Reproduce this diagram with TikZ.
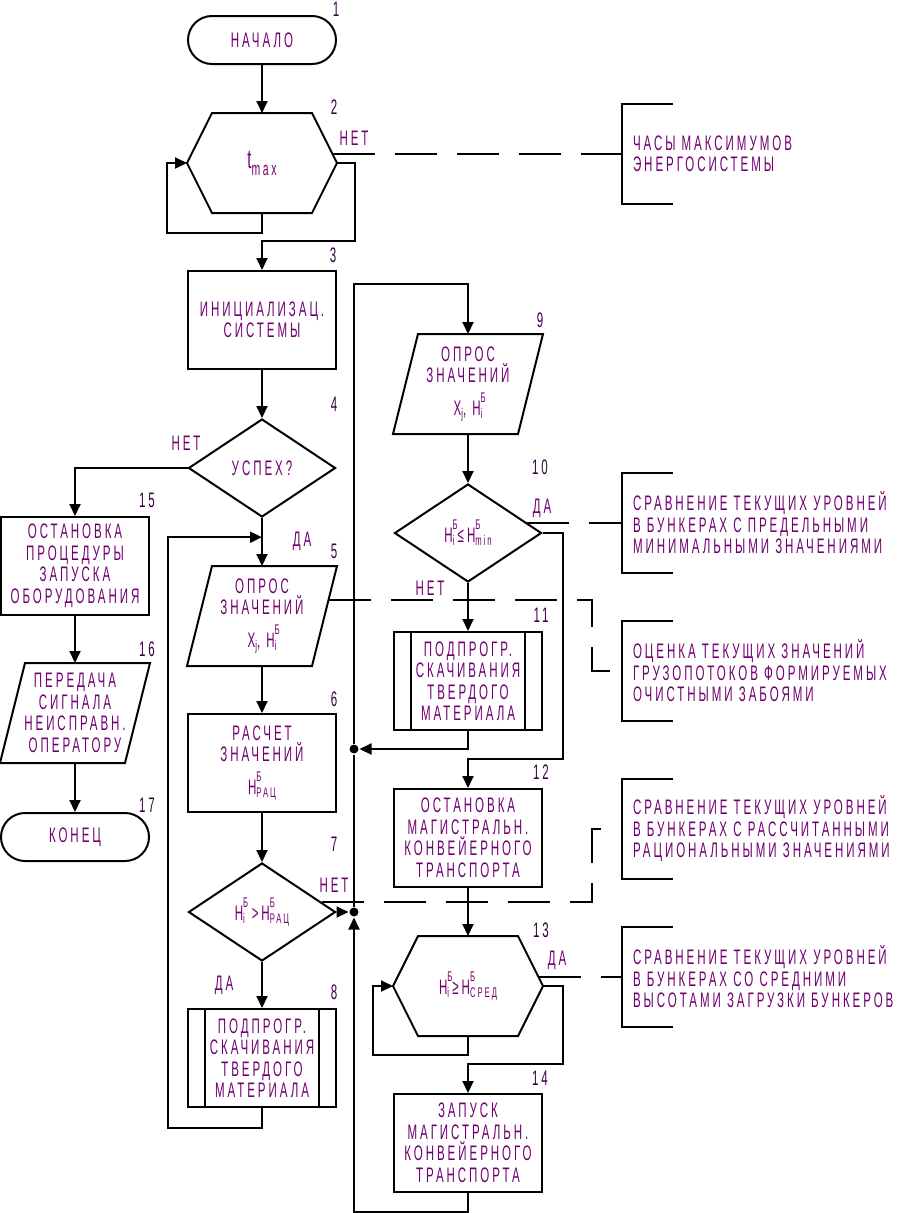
\documentclass[tikz,border=0pt]{standalone}
\usepackage{fontspec}
\setmainfont{Liberation Sans}[FakeStretch=0.55,LetterSpace=14]
\usetikzlibrary{arrows.meta,calc,shapes.geometric,shapes.misc}
\definecolor{txtpurple}{RGB}{112,0,112}
\definecolor{numdark}{RGB}{55,0,65}
\newcommand\subsz{\fontsize{14}{14}\selectfont}
\newcommand\lowsub[1]{\raisebox{-3pt}{\subsz #1}}
\newcommand\hbunk[1]{H\sbox0{\subsz Б}\sbox2{\subsz #1}\makebox[0pt][l]{\raisebox{13pt}{\usebox0}}\raisebox{-3pt}{\usebox2}\ifdim\wd0>\wd2\hspace{\dimexpr\wd0-\wd2\relax}\fi}
\tikzset{
    >={Triangle[length=12pt,width=11pt]},
    flow/.style={
        x=1pt,y=-1pt,line width=2pt,
        font=\fontsize{21}{21.5}\selectfont,text=txtpurple,
        term/.style={draw,rounded rectangle,minimum width=148pt,minimum height=48pt,inner sep=0pt},
        proc/.style={draw,rectangle,align=center,minimum width=148pt,minimum height=98pt,inner sep=0pt},
        subr/.style={proc},
        io/.style={rectangle,align=center,minimum width=148pt,minimum height=98pt,inner sep=0pt},
        hex/.style={io},
        cond/.style={draw,diamond,aspect=1.5,minimum width=147pt,minimum height=98pt,inner sep=0pt},
        note/.style={rectangle,anchor=west,align=left,minimum height=98pt,inner xsep=10pt,inner ysep=0pt},
        num/.style={text=numdark},
        junc/.style={circle,fill=black,inner sep=0pt,minimum size=9pt},
        noteline/.style={dash pattern=on 42pt off 20pt}
    }
}

\begin{document}
\begin{tikzpicture}[flow]
    \useasboundingbox (0,0) rectangle (903,1213);
    % main column
    \node[term] (b1) at (262,40) {НАЧАЛО};
    \node[hex] (b2) at (262,163) {{\fontsize{27}{27}\selectfont t}\raisebox{-7pt}{\fontsize{19}{19}\selectfont max}};
    \node[proc] (b3) at (262,320) {ИНИЦИАЛИЗАЦ.\\СИСТЕМЫ};
    \node[cond] (b4) at (262,468) {УСПЕХ?};
    \node[io] (b5) at (262,616) {ОПРОС\\ЗНАЧЕНИЙ\\[9pt]X\lowsub{j}, \hbunk{i}};
    \node[proc] (b6) at (262,763) {РАСЧЕТ\\ЗНАЧЕНИЙ\\[9pt]\hbunk{РАЦ}};
    \node[cond] (b7) at (262,912) {\hbunk{i}\,>\hbunk{РАЦ}};
    \node[subr] (b8) at (262,1058) {ПОДПРОГР.\\СКАЧИВАНИЯ\\ТВЕРДОГО\\МАТЕРИАЛА};
    % right column
    \node[io] (b9) at (468,384) {ОПРОС\\ЗНАЧЕНИЙ\\[9pt]X\lowsub{j}, \hbunk{i}};
    \node[cond] (b10) at (468,533) {\hbunk{i}≤\hbunk{min}};
    \node[subr] (b11) at (468,681) {ПОДПРОГР.\\СКАЧИВАНИЯ\\ТВЕРДОГО\\МАТЕРИАЛА};
    \node[proc] (b12) at (468,838) {ОСТАНОВКА\\МАГИСТРАЛЬН.\\КОНВЕЙЕРНОГО\\ТРАНСПОРТА};
    \node[hex] (b13) at (468,986) {\hbunk{i}≥\hbunk{СРЕД}};
    \node[proc] (b14) at (468,1143) {ЗАПУСК\\МАГИСТРАЛЬН.\\КОНВЕЙЕРНОГО\\ТРАНСПОРТА};
    % left column
    \node[proc] (b15) at (75,566) {ОСТАНОВКА\\ПРОЦЕДУРЫ\\ЗАПУСКА\\ОБОРУДОВАНИЯ};
    \node[io] (b16) at (75,713) {ПЕРЕДАЧА\\СИГНАЛА\\НЕИСПРАВН.\\ОПЕРАТОРУ};
    \node[term] (b17) at (75,837) {КОНЕЦ};
    % outlines
    \foreach \n in {b5,b9,b16}
        \draw (\n.south west) -- ([xshift=25pt]\n.north west) -- (\n.north east) -- ([xshift=-25pt]\n.south east) -- cycle;
    \foreach \n in {b2,b13}
        \draw (\n.west) -- ([xshift=25pt]\n.north west) -- ([xshift=-25pt]\n.north east) -- (\n.east) -- ([xshift=-25pt]\n.south east) -- ([xshift=25pt]\n.south west) -- cycle;
    \foreach \n in {b8,b11} {
        \draw ([xshift=18pt]\n.north west) -- ([xshift=18pt]\n.south west);
        \draw ([xshift=-18pt]\n.north east) -- ([xshift=-18pt]\n.south east);
    }
    % numbers
    \node[num] (k1) at (336,9) {1};
    \node[num] (k2) at (334,107) {2};
    \node[num] (k3) at (333,255) {3};
    \node[num] (k4) at (334,404) {4};
    \node[num] (k5) at (334,551) {5};
    \node[num] (k6) at (334,699) {6};
    \node[num] (k7) at (334,844) {7};
    \node[num] (k8) at (334,992) {8};
    \node[num] (k9) at (540,320) {9};
    \node[num] (k10) at (540,467) {10};
    \node[num] (k11) at (541,615) {11};
    \node[num] (k12) at (541,772) {12};
    \node[num] (k13) at (541,930) {13};
    \node[num] (k14) at (540,1078) {14};
    \node[num] (k15) at (147,500) {15};
    \node[num] (k16) at (147,649) {16};
    \node[num] (k17) at (147,805) {17};
    % yes / no
    \node (no2) at (354,138) {НЕТ};
    \node (no4) at (186,443) {НЕТ};
    \node (yes4) at (302,541) {ДА};
    \node (yes10) at (542,508) {ДА};
    \node (no10) at (430,588) {НЕТ};
    \node (no7) at (334,885) {НЕТ};
    \node (yes7) at (224,985) {ДА};
    \node (yes13) at (557,960) {ДА};
    % notes
    \node[note] (n1) at (622,154) {ЧАСЫ МАКСИМУМОВ\\ЭНЕРГОСИСТЕМЫ};
    \node[note] (n2) at (622,523) {СРАВНЕНИЕ ТЕКУЩИХ УРОВНЕЙ\\В БУНКЕРАХ С ПРЕДЕЛЬНЫМИ\\МИНИМАЛЬНЫМИ ЗНАЧЕНИЯМИ};
    \node[note] (n3) at (622,671) {ОЦЕНКА ТЕКУЩИХ ЗНАЧЕНИЙ\\ГРУЗОПОТОКОВ ФОРМИРУЕМЫХ\\ОЧИСТНЫМИ ЗАБОЯМИ};
    \node[note] (n4) at (622,829) {СРАВНЕНИЕ ТЕКУЩИХ УРОВНЕЙ\\В БУНКЕРАХ С РАССЧИТАННЫМИ\\РАЦИОНАЛЬНЫМИ ЗНАЧЕНИЯМИ};
    \node[note] (n5) at (622,977) {СРАВНЕНИЕ ТЕКУЩИХ УРОВНЕЙ\\В БУНКЕРАХ СО СРЕДНИМИ\\ВЫСОТАМИ ЗАГРУЗКИ БУНКЕРОВ};
    \foreach \i in {1,...,5}
        \draw ([xshift=51pt]n\i.north west) -- (n\i.north west) -- (n\i.south west) -- ([xshift=51pt]n\i.south west);
    % junctions
    \node[junc] (j1) at (354,749) {};
    \node[junc] (j2) at (354,912) {};
    % connectors
    \draw[->] (b1) -- (b2);
    \draw[->] (b2.south) -- ++(0,20) -| ($(b2.west)+(-20,0)$) -- (b2.west);
    \draw[->] (b2.east) -- ++(18,0) |- ($(b3.north)+(0,-29)$) -- (b3.north);
    \draw[->] (b3) -- (b4);
    \draw[->] (b4.west) -| (b15.north);
    \draw[->] (b4) -- (b5);
    \draw[->] (b5) -- (b6);
    \draw[->] (b6) -- (b7);
    \draw[->] (b7) -- (b8);
    \coordinate (m5) at ($(b4.south)!0.4!(b5.north)$);
    \draw[->] (b8.south) -- ++(0,20) -| ([xshift=-94pt]m5) -- (m5);
    \draw[->] (b7.east) -- (j2);
    \draw[->] (b14.south) -- ++(0,19) -| (j2);
    \draw (j2) -- (j1);
    \draw[->] (b11.south) |- (j1);
    \draw[->] (j1) |- ($(b9.north)+(0,-50)$) -- (b9.north);
    \draw[->] (b9) -- (b10);
    \draw[->] (b10) -- (b11);
    \draw[->] (b10.east) -- ++(20,0) |- ($(b12.north)+(0,-29)$) -- (b12.north);
    \draw[->] (b12) -- (b13);
    \draw[->] (b13.south) -- ++(0,19) -| ($(b13.west)+(-20,0)$) -- (b13.west);
    \draw[->] (b13.east) -- ++(20,0) |- ($(b14.north)+(0,-29)$) -- (b14.north);
    \draw[->] (b15) -- (b16);
    \draw[->] (b16) -- (b17);
    % note lines
    \draw[noteline] ($(b2.east)+(-4,-9)$) -- (n1.west);
    \draw[noteline] ($(b10.east)+(-16,-10)$) -- (n2.west);
    \draw[noteline] ($(b5.east)+(-8,-16)$) -| ($(n3.west)+(-30,0)$) -- (n3.west);
    \draw[noteline] ($(b7.east)+(-15,-10)$) -| ($(n4.west)+(-30,0)$) -- (n4.west);
    \draw[noteline] ($(b13.east)+(-4,-9)$) -- (n5.west);
\end{tikzpicture}
\end{document}
